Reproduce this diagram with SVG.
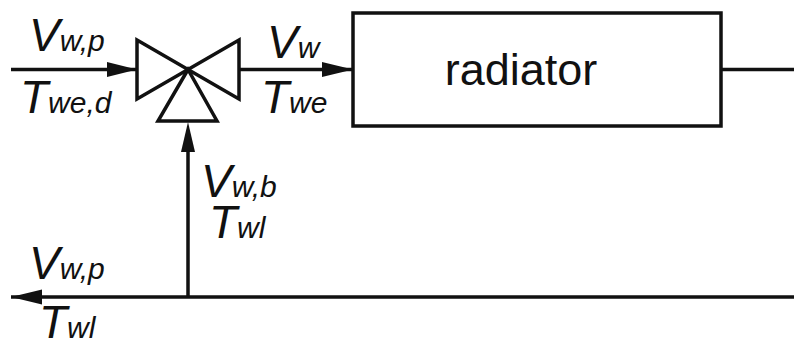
<svg xmlns="http://www.w3.org/2000/svg" width="794" height="338" viewBox="0 0 794 338">
<defs>
<style>
text{font-family:"Liberation Sans",Arial,sans-serif;font-style:italic;fill:#111}
.b{font-size:46px}
.s{font-size:30px}
.l{fill:none;stroke:#111;stroke-width:3.5}
.a{fill:#111;stroke:none}
.v{fill:#fff;stroke:#111;stroke-width:3.5;stroke-linejoin:miter}
</style>
</defs>
<rect width="794" height="338" fill="#fff"/>
<g id="connectors">
<path class="l" d="M11 69.500H136M240 69.500H353M722 69.500H794M188 297V150M11 297H794"/>
<path class="a" d="M107 62L137 69.500L107 77Z"/>
<path class="a" d="M322 62L353 69.500L322 77Z"/>
<path class="a" d="M181 152L188 122L195 152Z"/>
<path class="a" d="M11 297L42 289.500V304.500Z"/>
</g>
<g id="valve">
<path class="v" d="M188 69.500L137 40V99Z"/>
<path class="v" d="M188 69.500L239 40V99Z"/>
<path class="v" d="M188 69.500L158 121H217Z"/>
</g>
<g id="radiator">
<rect class="l" x="353" y="13" width="368" height="113"/>
<text x="521" y="85" text-anchor="middle" style="font-style:normal;font-size:45px">radiator</text>
</g>
<g id="labels">
<text x="29" y="51"><tspan class="b">V</tspan><tspan class="s">w,p</tspan></text>
<text x="20" y="113"><tspan class="b">T</tspan><tspan class="s">we,d</tspan></text>
<text x="267" y="58"><tspan class="b">V</tspan><tspan class="s">w</tspan></text>
<text x="261" y="113"><tspan class="b">T</tspan><tspan class="s">we</tspan></text>
<text x="201" y="197"><tspan class="b">V</tspan><tspan class="s">w,b</tspan></text>
<text x="209" y="238"><tspan class="b">T</tspan><tspan class="s">wl</tspan></text>
<text x="29" y="279"><tspan class="b">V</tspan><tspan class="s">w,p</tspan></text>
<text x="39" y="338"><tspan class="b">T</tspan><tspan class="s">wl</tspan></text>
</g>
</svg>
